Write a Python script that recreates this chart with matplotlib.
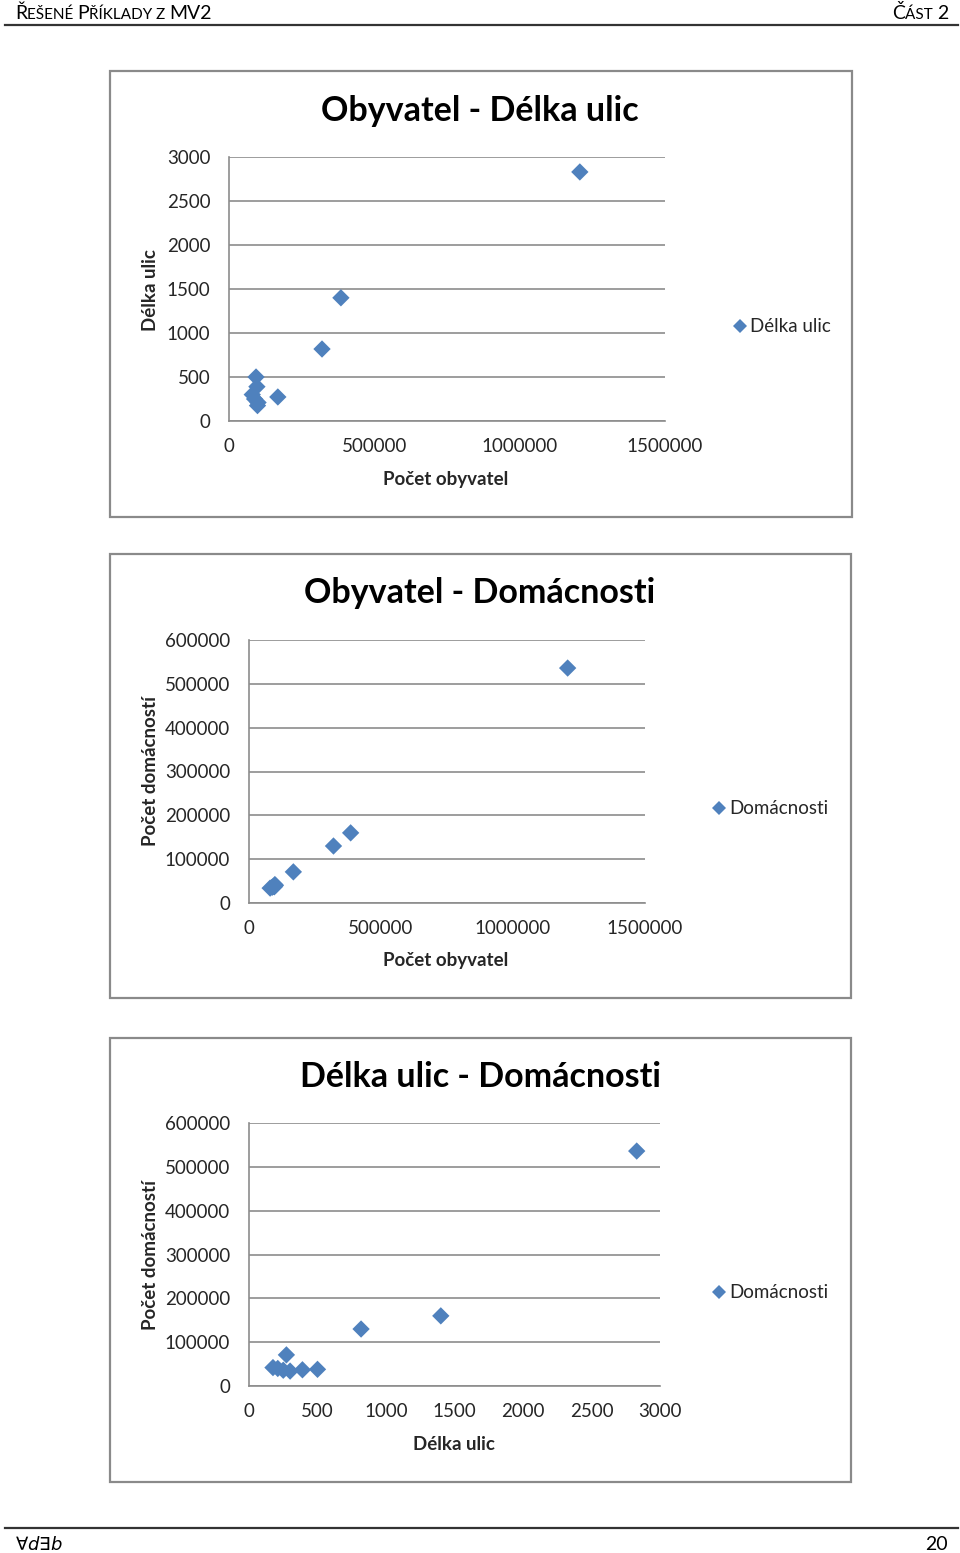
import numpy as np
import matplotlib
matplotlib.use('Agg')
import matplotlib.pyplot as plt
from matplotlib.patches import Rectangle
from matplotlib.lines import Line2D

# data (one entry per town)
obyvatel = [1207000, 385000, 320000, 168000, 93000, 96000, 80000, 100000, 88000, 98000]
delka_ulic = [2830, 1400, 818, 273, 500, 390, 300, 210, 250, 175]
domacnosti = [536000, 160000, 130000, 71000, 38000, 37000, 34000, 40000, 36000, 42000]

xticks_pop = [0, 500000, 1000000, 1500000]
yticks_delka = [0, 500, 1000, 1500, 2000, 2500, 3000]
yticks_dom = [0, 100000, 200000, 300000, 400000, 500000, 600000]
xticks_delka = [0, 500, 1000, 1500, 2000, 2500, 3000]

W, H = 960, 1553
FONT = 'Lato'
BLUE = '#4F81BD'
GRID = '#8c8c8c'
TXT = '#262626'

fig = plt.figure(figsize=(W/100, H/100), dpi=100)
fig.patch.set_facecolor('white')

def fx(x):
    return x / W

def fy(y):
    return 1 - y / H

def box(x0, y0, x1, y1):
    fig.patches.append(Rectangle((fx(x0), fy(y1)), fx(x1-x0), (y1-y0)/H,
                                 transform=fig.transFigure, fill=False,
                                 edgecolor='#8a8a8a', linewidth=1.6, zorder=0))

def chart(b, area, x, y, xt, yt, title, title_xy, xlabel, xlabel_xy,
          ylabel, ylabel_xy, legend, legend_xy):
    box(*b)
    l, t, r, bo = area
    ax = fig.add_axes([fx(l), fy(bo), fx(r-l), (bo-t)/H])
    ax.scatter(x, y, marker='D', s=78, color=BLUE, edgecolors='none', zorder=3,
               clip_on=False)
    ax.set_xlim(xt[0], xt[-1])
    ax.set_ylim(yt[0], yt[-1])
    ax.set_xticks(xt)
    ax.set_yticks(yt)
    ax.set_xticklabels([str(v) for v in xt], fontsize=13.5, family=FONT, color=TXT)
    ax.set_yticklabels([str(v) for v in yt], fontsize=13.5, family=FONT, color=TXT)
    ax.tick_params(axis='y', length=0, pad=13.5)
    ax.tick_params(axis='x', length=0, pad=12.5)
    ax.grid(axis='y', color=GRID, linewidth=1.2)
    ax.set_axisbelow(True)
    for s in ['top', 'right']:
        ax.spines[s].set_visible(False)
    for s in ['left', 'bottom']:
        ax.spines[s].set_color(GRID)
        ax.spines[s].set_linewidth(1.2)
    ax.patch.set_alpha(0)
    fig.text(fx(title_xy[0]), fy(title_xy[1]), title, family=FONT, weight='bold',
             fontsize=24.5, ha='center', va='center', color='black')
    fig.text(fx(xlabel_xy[0]), fy(xlabel_xy[1]), xlabel, family=FONT, weight='bold',
             fontsize=13.5, ha='center', va='center', color=TXT)
    fig.text(fx(ylabel_xy[0]), fy(ylabel_xy[1]), ylabel, family=FONT, weight='bold',
             fontsize=13.5, ha='center', va='center', rotation=90, color=TXT)
    fig.lines.append(Line2D([fx(legend_xy[0])], [fy(legend_xy[1])], marker='D',
                            markersize=7, color=BLUE, markeredgewidth=0,
                            transform=fig.transFigure))
    fig.text(fx(legend_xy[0] + 10), fy(legend_xy[1]), legend, family=FONT,
             fontsize=13.5, ha='left', va='center', color=TXT)
    return ax

chart((110, 71, 852, 517), (229, 157, 665, 421), obyvatel, delka_ulic,
      xticks_pop, yticks_delka, 'Obyvatel - Délka ulic', (480, 111),
      'Počet obyvatel', (446, 479), 'Délka ulic', (150, 290),
      'Délka ulic', (740, 326))

chart((110, 554, 851, 998), (249, 640, 645, 903), obyvatel, domacnosti,
      xticks_pop, yticks_dom, 'Obyvatel - Domácnosti', (480, 593),
      'Počet obyvatel', (446, 961), 'Počet domácností', (150, 771),
      'Domácnosti', (719, 808))

chart((110, 1038, 851, 1482), (249, 1123, 660, 1386), delka_ulic, domacnosti,
      xticks_delka, yticks_dom, 'Délka ulic - Domácnosti', (480, 1077),
      'Délka ulic', (454, 1445), 'Počet domácností', (150, 1255),
      'Domácnosti', (719, 1292))

# page header and footer
fig.lines.append(Line2D([fx(5), fx(958)], [fy(25), fy(25)], color='#333333',
                        linewidth=1.6, transform=fig.transFigure))
fig.lines.append(Line2D([fx(5), fx(958)], [fy(1528), fy(1528)], color='#333333',
                        linewidth=1.6, transform=fig.transFigure))

# small caps header built from pieces
fig.canvas.draw()
renderer = fig.canvas.get_renderer()
pieces = [('Ř', 14), ('EŠENÉ ', 11), ('P', 14), ('ŘÍKLADY ', 11), ('Z ', 11), ('MV2', 14)]
x = 15
for txt, size in pieces:
    t = fig.text(fx(x), fy(19), txt, family=FONT, fontsize=size, ha='left',
                 va='baseline')
    ext = t.get_window_extent(renderer)
    x += ext.width
x = 948
for txt, size in [('2', 14), ('ÁST ', 11), ('Č', 14)]:
    t = fig.text(fx(x), fy(19), txt, family=FONT, fontsize=size, ha='right',
                 va='baseline')
    ext = t.get_window_extent(renderer)
    x -= ext.width

fig.text(fx(15), fy(1550), r'$\forall d\exists b$', fontsize=13, ha='left',
         va='baseline')
fig.text(fx(948), fy(1550), '20', family=FONT, fontsize=14, ha='right',
         va='baseline')

fig.savefig('out.png', dpi=100)
